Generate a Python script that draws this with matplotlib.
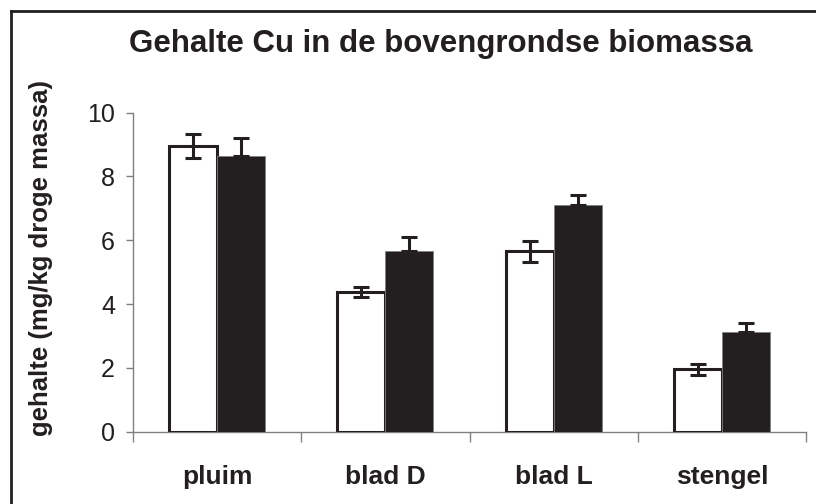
import numpy as np
import matplotlib
matplotlib.use("Agg")
from matplotlib import pyplot as plt
from matplotlib.lines import Line2D

plt.rcParams["font.family"] = ["Liberation Sans", "DejaVu Sans"]

categories = ["pluim", "blad D", "blad L", "stengel"]
open_values = [8.95, 4.38, 5.65, 1.95]
open_err = [0.38, 0.17, 0.33, 0.17]
closed_values = [8.65, 5.68, 7.1, 3.12]
closed_err = [0.55, 0.42, 0.32, 0.3]

dark = "#231f20"
grey = "#808080"

fig = plt.figure(figsize=(8.16, 5.04), dpi=100)
ax = fig.add_axes([133 / 816, 1 - 431.7 / 504, 673 / 816, 319 / 504])

x = np.arange(len(categories))
w = 0.285
ax.bar(x - w / 2, open_values, w, color="white", edgecolor=dark, linewidth=2.2, zorder=2)
ax.bar(x + w / 2, closed_values, w, color=dark, edgecolor=grey, linewidth=0.6, zorder=2)
ax.errorbar(x - w / 2, open_values, yerr=open_err, fmt="none", ecolor=dark,
            elinewidth=2.2, capsize=6, capthick=2.2, zorder=3)
ax.errorbar(x + w / 2, closed_values, yerr=[np.zeros(len(x)), closed_err], fmt="none",
            ecolor=dark, elinewidth=2.2, capsize=6, capthick=2.2, zorder=3)

ax.set_xlim(-0.5, len(categories) - 0.5)
ax.set_ylim(0, 10)
ax.set_yticks(range(0, 11, 2))
ax.set_xticks(x)
ax.set_xticklabels(categories, fontsize=19, fontweight="bold", color=dark)
ax.set_xticks(np.arange(-0.5, len(categories)), minor=True)
ax.tick_params(axis="x", which="major", length=0, pad=24)
ax.tick_params(axis="x", which="minor", length=7.5, width=1, color=grey, direction="out")
ax.tick_params(axis="y", length=5, width=1, color=grey, labelsize=18,
               labelcolor=dark, pad=8)
for s in ["top", "right"]:
    ax.spines[s].set_visible(False)
for s in ["left", "bottom"]:
    ax.spines[s].set_color(grey)
    ax.spines[s].set_linewidth(1)
ax.spines["bottom"].set_zorder(1)

fig.text(41 / 816, 1 - 258 / 504, "gehalte (mg/kg droge massa)", rotation=90,
         ha="center", va="center", fontsize=18.5, fontweight="bold", color=dark)
fig.text(441 / 816, 1 - 44 / 504, "Gehalte Cu in de bovengrondse biomassa",
         ha="center", va="center", fontsize=22.5, fontweight="bold", color=dark)

# outer frame (cropped at right and bottom)
fig.add_artist(Line2D([10.5 / 816, 10.5 / 816], [0, 1 - 10.5 / 504], color=dark, linewidth=2))
fig.add_artist(Line2D([10.5 / 816, 1], [1 - 10.5 / 504, 1 - 10.5 / 504], color=dark, linewidth=2))

plt.savefig("out.png", dpi=100)
plt.close()
